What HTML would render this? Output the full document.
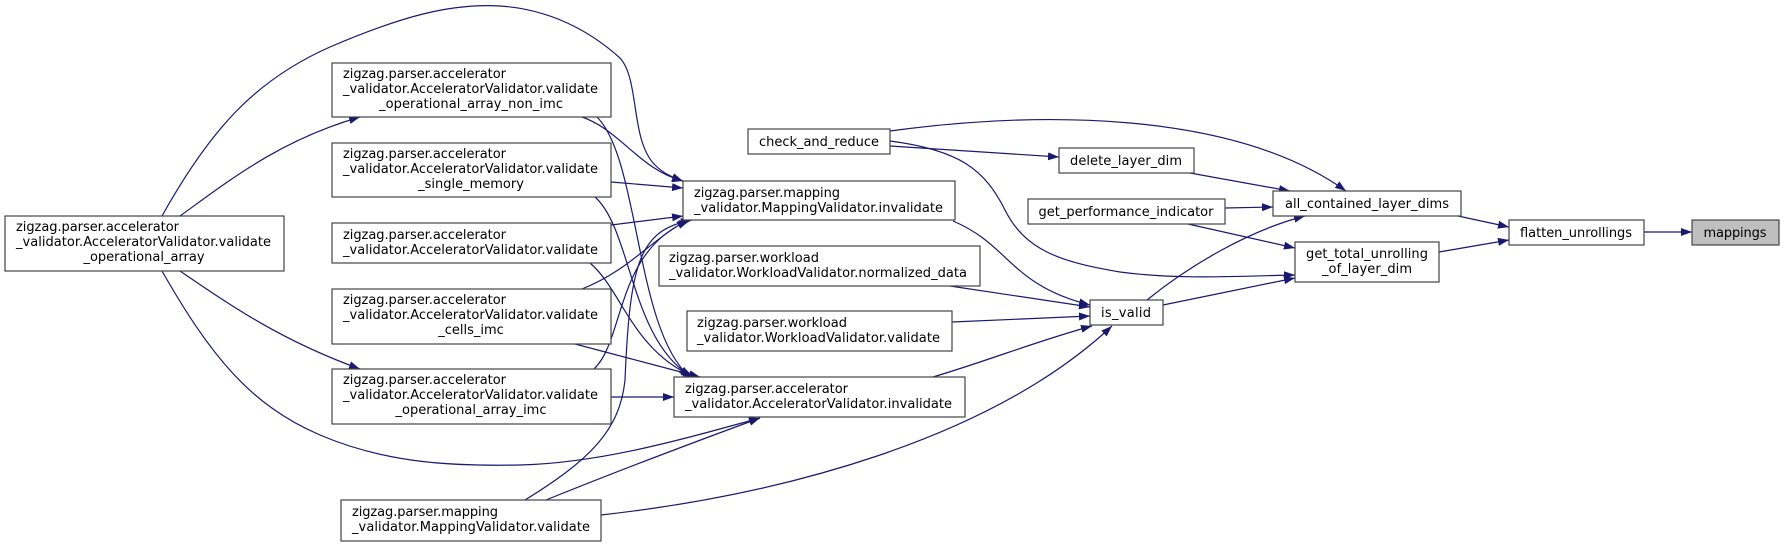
<!DOCTYPE html>
<html><head><meta charset="utf-8"><style>
html,body{margin:0;padding:0;background:#fff;}
svg{display:block;}
text{font-family:"DejaVu Sans","Liberation Sans",sans-serif;font-size:13px;fill:#000;}
.b{fill:#fff;stroke:#444;stroke-width:1.2;}
.e{fill:none;stroke:#191970;stroke-width:1.2;}
</style></head><body>
<svg width="1784" height="547" viewBox="0 0 1784 547" xmlns="http://www.w3.org/2000/svg">
<defs><marker id="a" markerUnits="userSpaceOnUse" markerWidth="11" markerHeight="8" refX="11" refY="4" orient="auto"><path d="M0,0 L11,4 L0,8 z" fill="#191970"/></marker></defs>
<g class="e" marker-end="url(#a)">
<path d="M1644,232 L1692,232"/>
<path d="M1458,216 L1509,227"/>
<path d="M1439,252 L1509,240"/>
<path d="M1190,173 L1290,191"/>
<path d="M1225,208 L1273,207"/>
<path d="M890,131 C1030,112 1230,108 1346,191"/>
<path d="M1147,300 C1190,265 1250,230 1305,216"/>
<path d="M1188,224 L1295,248"/>
<path d="M890,141 C960,150 985,170 1005,210 C1025,250 1060,262 1120,272 C1180,280 1240,276 1295,275"/>
<path d="M1163,305 L1295,278"/>
<path d="M890,146 L1059,157"/>
<path d="M953,221 C1010,245 1010,285 1090,305"/>
<path d="M950,286 L1090,307"/>
<path d="M952,322 L1090,316"/>
<path d="M933,377 C990,360 1040,340 1092,326"/>
<path d="M601,515 C780,495 990,440 1112,326"/>
<path d="M582,117 C620,130 640,170 683,181"/>
<path d="M611,182 L683,188"/>
<path d="M611,225 L683,216"/>
<path d="M582,289 C630,270 650,240 688,220"/>
<path d="M594,369 C625,340 615,250 690,220"/>
<path d="M525,500 C590,460 620,430 625,380 C630,260 640,230 692,220"/>
<path d="M162,216 C210,130 255,80 330,47 C400,17 450,3 500,6 C560,10 600,40 620,58 C640,80 630,140 655,165 C665,175 675,178 683,181"/>
<path d="M162,271 C210,355 250,405 320,435 C390,465 460,466 520,465 C600,463 680,440 760,418"/>
<path d="M597,117 C640,160 635,330 690,377"/>
<path d="M595,197 C632,230 630,340 692,377"/>
<path d="M590,263 C622,290 632,350 694,377"/>
<path d="M575,344 L700,377"/>
<path d="M611,397 L674,397"/>
<path d="M546,500 C620,470 700,440 760,418"/>
<path d="M180,216 C230,180 280,140 360,117"/>
<path d="M180,271 C230,305 280,340 360,369"/>
</g>
<!-- boxes -->
<rect class="b" x="5" y="216" width="279" height="55"/>
<text x="16" y="231" textLength="163">zigzag.parser.accelerator</text>
<text x="16" y="246" textLength="255">_validator.AcceleratorValidator.validate</text>
<text x="144" y="261" text-anchor="middle">_operational_array</text>

<rect class="b" x="332" y="63" width="279" height="54"/>
<text x="343" y="78" textLength="163">zigzag.parser.accelerator</text>
<text x="343" y="93" textLength="255">_validator.AcceleratorValidator.validate</text>
<text x="471" y="108" text-anchor="middle" textLength="184">_operational_array_non_imc</text>

<rect class="b" x="332" y="143" width="279" height="54"/>
<text x="343" y="158" textLength="163">zigzag.parser.accelerator</text>
<text x="343" y="173" textLength="255">_validator.AcceleratorValidator.validate</text>
<text x="471" y="188" text-anchor="middle">_single_memory</text>

<rect class="b" x="332" y="223" width="279" height="40"/>
<text x="343" y="239" textLength="163">zigzag.parser.accelerator</text>
<text x="343" y="254" textLength="255">_validator.AcceleratorValidator.validate</text>

<rect class="b" x="332" y="289" width="279" height="55"/>
<text x="343" y="304" textLength="163">zigzag.parser.accelerator</text>
<text x="343" y="319" textLength="255">_validator.AcceleratorValidator.validate</text>
<text x="471" y="334" text-anchor="middle">_cells_imc</text>

<rect class="b" x="332" y="369" width="279" height="55"/>
<text x="343" y="384" textLength="163">zigzag.parser.accelerator</text>
<text x="343" y="399" textLength="255">_validator.AcceleratorValidator.validate</text>
<text x="471" y="414" text-anchor="middle">_operational_array_imc</text>

<rect class="b" x="341" y="500" width="260" height="41"/>
<text x="352" y="516" textLength="146">zigzag.parser.mapping</text>
<text x="352" y="531" textLength="238">_validator.MappingValidator.validate</text>

<rect class="b" x="683" y="181" width="272" height="39"/>
<text x="694" y="197" textLength="146">zigzag.parser.mapping</text>
<text x="694" y="212" textLength="249">_validator.MappingValidator.invalidate</text>

<rect class="b" x="659" y="246" width="321" height="40"/>
<text x="669" y="262" textLength="150">zigzag.parser.workload</text>
<text x="669" y="277" textLength="298">_validator.WorkloadValidator.normalized_data</text>

<rect class="b" x="687" y="311" width="265" height="40"/>
<text x="697" y="327" textLength="150">zigzag.parser.workload</text>
<text x="697" y="342" textLength="243">_validator.WorkloadValidator.validate</text>

<rect class="b" x="674" y="377" width="291" height="40"/>
<text x="685" y="393" textLength="163">zigzag.parser.accelerator</text>
<text x="685" y="408" textLength="267">_validator.AcceleratorValidator.invalidate</text>

<rect class="b" x="748" y="129" width="142" height="25"/>
<text x="819" y="146" text-anchor="middle" textLength="120">check_and_reduce</text>

<rect class="b" x="1059" y="148" width="135" height="25"/>
<text x="1126" y="165" text-anchor="middle" textLength="112">delete_layer_dim</text>

<rect class="b" x="1028" y="199" width="197" height="25"/>
<text x="1126" y="216" text-anchor="middle" textLength="175">get_performance_indicator</text>

<rect class="b" x="1090" y="300" width="73" height="25"/>
<text x="1126" y="317" text-anchor="middle" textLength="50">is_valid</text>

<rect class="b" x="1273" y="191" width="188" height="25"/>
<text x="1367" y="208" text-anchor="middle" textLength="164">all_contained_layer_dims</text>

<rect class="b" x="1295" y="242" width="144" height="40"/>
<text x="1367" y="258" text-anchor="middle" textLength="122">get_total_unrolling</text>
<text x="1367" y="273" text-anchor="middle" textLength="90">_of_layer_dim</text>

<rect class="b" x="1509" y="220" width="135" height="25"/>
<text x="1576" y="237" text-anchor="middle" textLength="112">flatten_unrollings</text>

<rect x="1692" y="220" width="87" height="25" fill="#bfbfbf" stroke="#444" stroke-width="1.2"/>
<text x="1735" y="237" text-anchor="middle" textLength="63">mappings</text>
</svg>
</body></html>
